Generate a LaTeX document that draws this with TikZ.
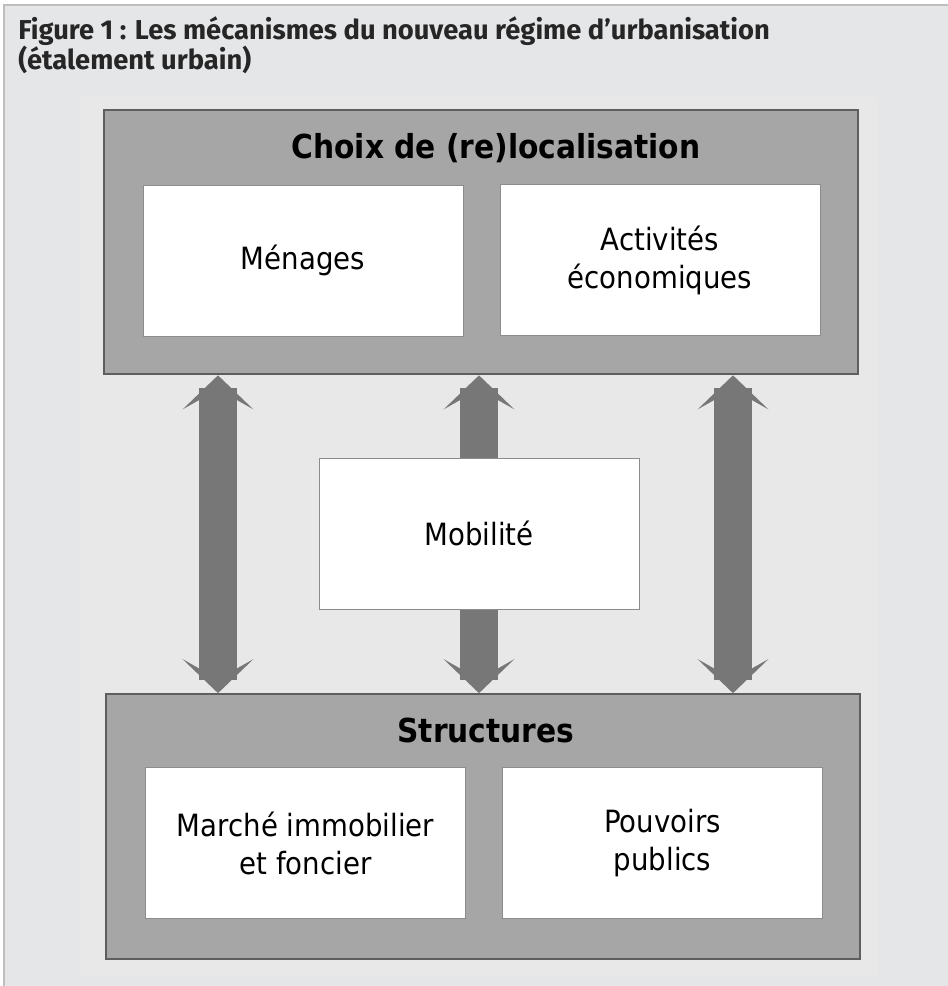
\documentclass[tikz,border=0pt]{standalone}
\usepackage{fontspec}
\usepackage{tikz}
\usetikzlibrary{arrows.meta}

\newfontfamily\boxfont[FakeStretch=0.9]{DejaVu Sans}
\newfontfamily\titlefont{Fira Sans}

\definecolor{bgframe}{HTML}{E5E6E8}
\definecolor{panel}{HTML}{E8E8E9}
\definecolor{frameline}{HTML}{BEBEBE}
\definecolor{boxgray}{HTML}{A6A6A6}
\definecolor{boxline}{HTML}{5E5E5E}
\definecolor{arrowgray}{HTML}{777777}
\definecolor{whiteline}{HTML}{8C8C8C}

\tikzset{
  outerbox/.style={draw=boxline, line width=1.5pt, fill=boxgray,
    minimum width=565.5pt, minimum height=198.5pt},
  innerbox/.style={draw=whiteline, line width=0.75pt, fill=white,
    minimum width=240pt, minimum height=113.25pt, align=center,
    font=\boxfont\fontsize{23}{28.5}\selectfont},
  boxtitle/.style={anchor=base, inner sep=0pt,
    font=\boxfont\bfseries\fontsize{24.75}{30}\selectfont},
  titletext/.style={anchor=north west, inner sep=0pt, align=left,
    text=black!85, font=\titlefont\bfseries\fontsize{20.5}{22.5}\selectfont},
  stealthtip/.tip={Stealth[length=25.5pt, width=53pt, inset=15pt]},
  dblarrow/.style={draw=arrowgray, line width=28.5pt, stealthtip-stealthtip},
  onearrow/.style={draw=arrowgray, line width=28.5pt, -stealthtip}
}

\begin{document}
\begin{tikzpicture}[x=0.75pt, y=-0.75pt]
\useasboundingbox (0,0) rectangle (948,986);

% fond et cadre
\draw[draw=frameline, line width=1.5pt, fill=bgframe] (4,5) rectangle (970,1010);
\fill[panel] (80,97) rectangle (877,977);

% titre
\node[titletext] (titre) at (18,16) {Figure 1 : Les mécanismes du nouveau régime d’urbanisation\\(étalement urbain)};

% grands cadres
\node[outerbox] (choix) at (481,242) {};
\node[outerbox] (struct) at (483,826.5) {};
\node[boxtitle] (choixtitre) at (496,158) {Choix de (re)localisation};
\node[boxtitle] (structtitre) at (486,742) {Structures};

% cases blanches
\node[innerbox] (menages) at (303,260.5) {Ménages};
\node[innerbox] (activites) at (660,260) {Activités\\économiques};
\node[innerbox] (mobilite) at (479,533.5) {Mobilité};
\node[innerbox] (marche) at (305.5,843) {Marché immobilier\\et foncier};
\node[innerbox] (pouvoirs) at (662.5,843) {Pouvoirs\\publics};

% fleches
\coordinate (gauche) at (218,0);
\coordinate (droite) at (733,0);
\draw[dblarrow] (choix.south -| gauche) -- (struct.north -| gauche);
\draw[dblarrow] (choix.south -| droite) -- (struct.north -| droite);
\draw[onearrow] (mobilite.north) -- (choix.south -| mobilite.north);
\draw[onearrow] (mobilite.south) -- (struct.north -| mobilite.south);

\end{tikzpicture}
\end{document}
